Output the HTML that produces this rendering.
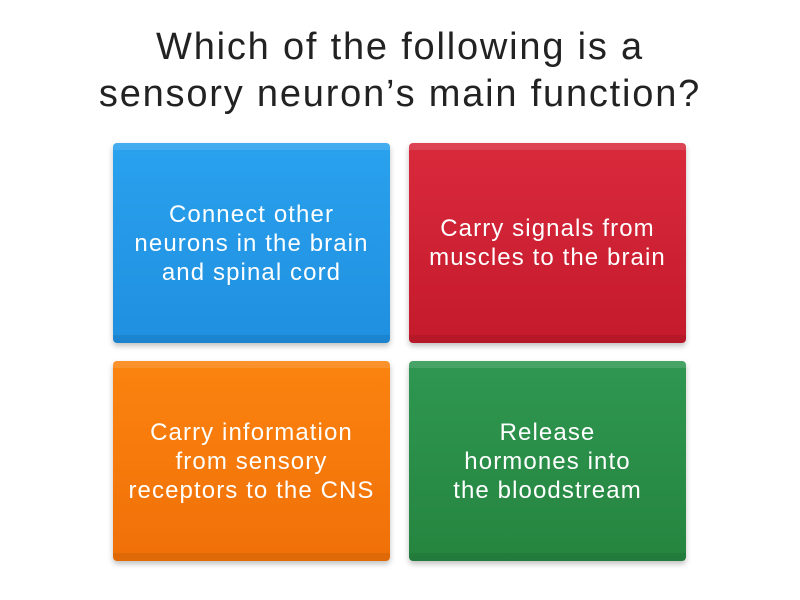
<!DOCTYPE html>
<html><head><style>
body{margin:0;width:800px;height:600px;background:#fff;font-family:"Liberation Sans",sans-serif;position:relative;overflow:hidden}
.t{position:absolute;left:0;width:800px;top:24px;text-align:center;font-size:38px;line-height:47px;color:#222;letter-spacing:1.8px}
.c{position:absolute;width:277px;height:200px;border-radius:4px;display:flex;align-items:center;justify-content:center;text-align:center;color:#fff;font-size:24px;line-height:29px;letter-spacing:1.1px;box-shadow:0 3px 6px rgba(0,0,0,.25);box-sizing:border-box;padding:0 2px}
.c::before{content:"";position:absolute;left:0;right:0;top:0;height:7px;background:rgba(255,255,255,.12);border-radius:4px 4px 0 0}
.c::after{content:"";position:absolute;left:0;right:0;bottom:0;height:8px;background:rgba(0,0,0,.07);border-radius:0 0 4px 4px}
</style></head><body>
<div class="t">Which of the following is a<br>sensory neuron’s main function?</div>
<div class="c" style="left:113px;top:143px;background:linear-gradient(#2aa2ee,#1f8fdf)">Connect other<br>neurons in the brain<br>and spinal cord</div>
<div class="c" style="left:409px;top:143px;background:linear-gradient(#d92a3c,#c41a2c)">Carry signals from<br>muscles to the brain</div>
<div class="c" style="left:113px;top:361px;background:linear-gradient(#fb830f,#f07008)">Carry information<br>from sensory<br>receptors to the CNS</div>
<div class="c" style="left:409px;top:361px;background:linear-gradient(#2e9751,#25853f)">Release<br>hormones into<br>the bloodstream</div>
</body></html>
